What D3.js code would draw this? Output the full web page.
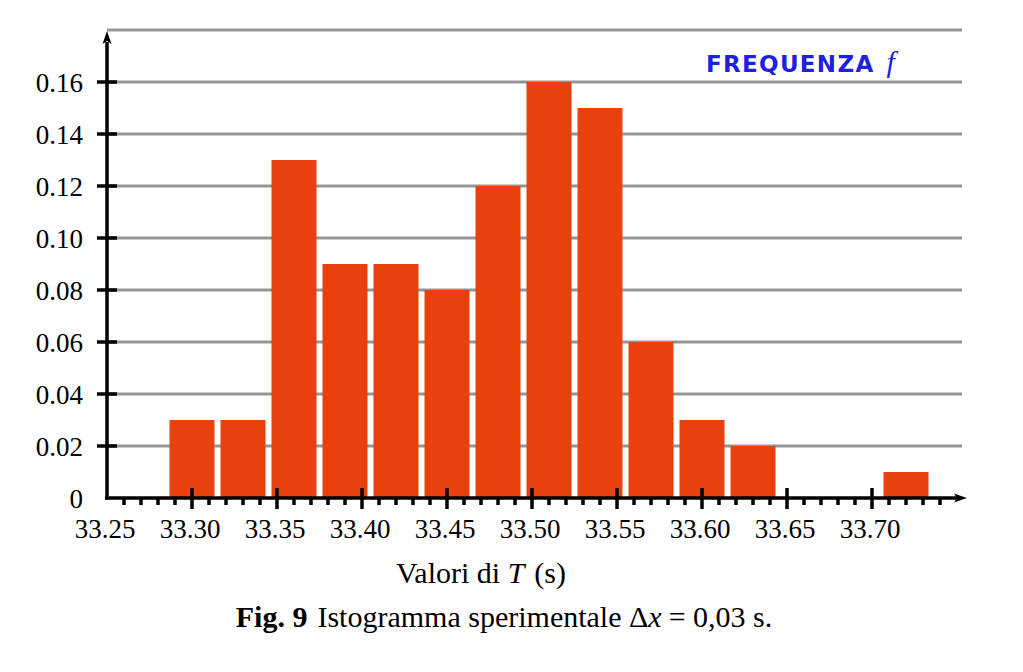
<!DOCTYPE html>
<html>
<head>
<meta charset="utf-8">
<script src="https://cdn.jsdelivr.net/npm/d3@7"></script>
<style>
  html, body { margin: 0; padding: 0; background: #fff; }
  svg { display: block; }
</style>
</head>
<body>
<svg id="chart" width="1023" height="672"></svg>
<script>
// ---- data ----
const binCenters = [33.30, 33.33, 33.36, 33.39, 33.42, 33.45, 33.48, 33.51, 33.54, 33.57, 33.60, 33.63, 33.66, 33.69, 33.72];
const frequencies = [0.03, 0.03, 0.13, 0.09, 0.09, 0.08, 0.12, 0.16, 0.15, 0.06, 0.03, 0.02, 0, 0, 0.01];
const binWidth = 0.03;
const xTickValues = [33.25, 33.30, 33.35, 33.40, 33.45, 33.50, 33.55, 33.60, 33.65, 33.70];
const yTickValues = [0, 0.02, 0.04, 0.06, 0.08, 0.10, 0.12, 0.14, 0.16];
const gridValues = [0.02, 0.04, 0.06, 0.08, 0.10, 0.12, 0.14, 0.16, 0.18];
const minorTickValues = d3.range(26, 75).filter(i => i % 5 !== 0).map(i => 33 + i / 100);

const svg = d3.select("#chart");
const x = d3.scaleLinear().domain([33.25, 33.75]).range([107, 957]);
const y = d3.scaleLinear().domain([0, 0.18]).range([498, 30]);
const serif = "'Liberation Serif', 'Times New Roman', serif";

// gridlines
svg.append("g").selectAll("line").data(gridValues).join("line")
  .attr("x1", x(33.25)).attr("x2", 962)
  .attr("y1", d => y(d)).attr("y2", d => y(d))
  .attr("stroke", "#959595").attr("stroke-width", 3);

// bars
svg.append("g").selectAll("rect").data(binCenters.map((c, i) => ({c, v: frequencies[i]})).filter(d => d.v > 0))
  .join("rect")
  .attr("x", d => x(d.c - binWidth / 2) + 3)
  .attr("width", d => x(d.c + binWidth / 2) - x(d.c - binWidth / 2) - 6)
  .attr("y", d => y(d.v))
  .attr("height", d => y(0) - y(d.v))
  .attr("fill", "#e8410e");

// axes lines
const axisG = svg.append("g");
axisG.append("line").attr("x1", x(33.25) - 2).attr("x2", 958)
  .attr("y1", y(0)).attr("y2", y(0)).attr("stroke", "#000").attr("stroke-width", 3.5);
axisG.append("path").attr("d", `M967,${y(0)} L954,${y(0)-4.5} L957,${y(0)} L954,${y(0)+4.5} Z`).attr("fill", "#000");
axisG.append("line").attr("x1", x(33.25)).attr("x2", x(33.25))
  .attr("y1", y(0) + 1.5).attr("y2", 42).attr("stroke", "#000").attr("stroke-width", 3.5);
axisG.append("path").attr("d", `M${x(33.25)},31 L${x(33.25)-4.5},44 L${x(33.25)},41 L${x(33.25)+4.5},44 Z`).attr("fill", "#000");

// y ticks
axisG.append("g").selectAll("line").data(yTickValues.filter(d => d > 0)).join("line")
  .attr("x1", x(33.25) - 10).attr("x2", x(33.25) + 10)
  .attr("y1", d => y(d)).attr("y2", d => y(d))
  .attr("stroke", "#000").attr("stroke-width", 3.5);
axisG.append("g").selectAll("text").data(yTickValues).join("text")
  .attr("x", 83).attr("y", d => y(d) + 9.5)
  .attr("text-anchor", "end")
  .attr("font-family", serif).attr("font-size", 27)
  .text(d => d === 0 ? "0" : d3.format(".2f")(d));

// x major ticks
axisG.append("g").selectAll("line").data(xTickValues.filter(d => d > 33.25)).join("line")
  .attr("x1", d => x(d)).attr("x2", d => x(d))
  .attr("y1", y(0) - 10).attr("y2", y(0) + 11)
  .attr("stroke", "#000").attr("stroke-width", 3.5);
// x minor ticks
axisG.append("g").selectAll("line").data(minorTickValues).join("line")
  .attr("x1", d => x(d)).attr("x2", d => x(d))
  .attr("y1", y(0)).attr("y2", y(0) + 7)
  .attr("stroke", "#000").attr("stroke-width", 3.5);
axisG.append("g").selectAll("text").data(xTickValues).join("text")
  .attr("x", d => x(d) - 2).attr("y", 538)
  .attr("text-anchor", "middle")
  .attr("font-family", serif).attr("font-size", 27)
  .text(d => d3.format(".2f")(d));

// axis title
const t = svg.append("text").attr("x", 481).attr("y", 583)
  .attr("text-anchor", "middle").attr("font-family", serif).attr("font-size", 30);
t.append("tspan").text("Valori di ");
t.append("tspan").attr("font-style", "italic").text("T");
t.append("tspan").attr("dx", 10).text("(s)");

// caption
const c = svg.append("text").attr("x", 504).attr("y", 627)
  .attr("text-anchor", "middle").attr("font-family", serif).attr("font-size", 30);
c.append("tspan").attr("font-weight", "bold").text("Fig. 9");
c.append("tspan").attr("dx", 10).text("Istogramma sperimentale Δ");
c.append("tspan").attr("font-style", "italic").text("x");
c.append("tspan").attr("dx", 7).text("= 0,03 s.");

// frequency label
const f = svg.append("text").attr("x", 706).attr("y", 72).attr("fill", "#1f1fe0");
f.append("tspan").attr("font-family", "'DejaVu Sans', sans-serif").attr("font-weight", "bold")
  .attr("font-size", 23).attr("letter-spacing", 1.3).text("FREQUENZA");
f.append("tspan").attr("font-family", serif).attr("font-style", "italic").attr("font-size", 30)
  .attr("letter-spacing", 0).attr("dx", 12).text("f");
</script>
</body>
</html>
